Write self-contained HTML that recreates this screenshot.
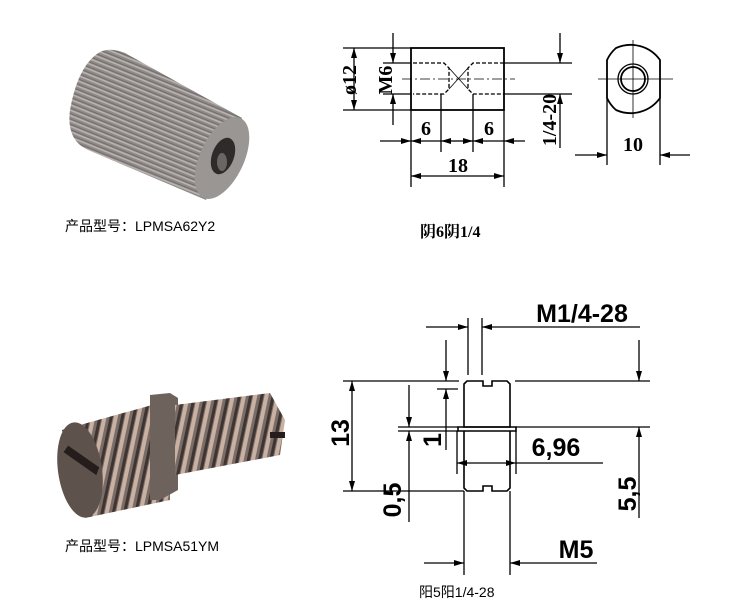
<!DOCTYPE html>
<html><head><meta charset="utf-8"><style>
body{margin:0;background:#fff;}
svg{display:block}
text{font-family:"Liberation Sans","Noto Sans CJK SC",sans-serif;fill:#000}
.sf text, text.sf{font-family:"Liberation Serif","Noto Serif CJK SC",serif;font-weight:bold}
</style></head><body>
<svg width="750" height="609" viewBox="0 0 750 609" xmlns="http://www.w3.org/2000/svg">
<defs>
<pattern id="kn" width="10" height="5" patternUnits="userSpaceOnUse" patternTransform="rotate(22)">
<rect width="10" height="5" fill="#8e8986"/><rect width="10" height="1.6" fill="#b8b3b0"/><rect y="3.5" width="10" height="0.8" fill="#6c6764"/>
</pattern>
<pattern id="th" width="11" height="10" patternUnits="userSpaceOnUse" patternTransform="rotate(12)">
<rect width="11" height="10" fill="#7a6c66"/><rect width="4" height="10" fill="#c8b0a2"/><rect x="7" width="3" height="10" fill="#3e3431"/></pattern>
<marker id="a" viewBox="0 0 10 6" refX="10" refY="3" markerWidth="10" markerHeight="6" orient="auto-start-reverse" markerUnits="userSpaceOnUse"><path d="M0,0L10,3L0,6z" fill="#000"/></marker>
</defs>
<!-- top photo -->
<g>
<path d="M100,52 Q110,47 125,53 L242,118 L206,200 L88,150 Q66,140 70,110 Q78,65 100,52Z" fill="url(#kn)"/>
<ellipse cx="222" cy="158" rx="22" ry="44" fill="#9a9694" transform="rotate(25 222 158)"/>
<ellipse cx="223" cy="156" rx="11" ry="19" fill="#2e2b2a" transform="rotate(20 223 156)"/>
<ellipse cx="222" cy="162" rx="5" ry="9" fill="#6a6664"/>
</g>
<text x="65" y="231" font-size="14">产品型号：LPMSA62Y2</text>
<!-- bottom photo -->
<g>
<path d="M62,430 L170,400 L170,500 L85,518 Z" fill="url(#th)"/>
<path d="M150,395 L170,393 L178,398 L178,490 L160,500 L150,500 Z" fill="#6e625c"/>
<path d="M175,405 L270,393 L285,420 L280,455 L175,475 Z" fill="url(#th)"/>
<ellipse cx="80" cy="470" rx="22" ry="48" fill="#5e524d" transform="rotate(-8 80 470)"/>
<path d="M62,455 L100,455 L102,463 L62,463z" fill="#241d1b" transform="rotate(35 80 460)"/>
<rect x="270" y="432" width="15" height="6" fill="#241d1b"/>
</g>
<text x="65" y="551" font-size="14">产品型号：LPMSA51YM</text>

<!-- top drawing -->
<g stroke="#000" fill="none" stroke-width="1.3">
<rect x="411" y="48" width="93" height="62" stroke-width="1.8"/>
<path d="M413,63H444L449,68V89L444,94H413M504,63H473L468,68V89L473,94H504" stroke-dasharray="4 2"/>
<path d="M449,68L468,89M449,89L468,68" stroke-width="0.8"/>
<path d="M402,79H515" stroke-width="0.7" stroke-dasharray="10 3 2 3"/>
<path d="M504,63H572M504,94H572M343,48H411M343,110H411M383,63H411M383,94H411"/>
<line x1="560" y1="33" x2="560" y2="63" marker-end="url(#a)"/>
<line x1="560" y1="148" x2="560" y2="94" marker-end="url(#a)"/>
<line x1="354" y1="48" x2="354" y2="110" marker-start="url(#a)" marker-end="url(#a)"/>
<line x1="393" y1="33" x2="393" y2="63" marker-end="url(#a)"/>
<line x1="393" y1="125" x2="393" y2="94" marker-end="url(#a)"/>
<path d="M411,110V187M504,110V187M441,94V152M473,94V152"/>
<line x1="380" y1="141" x2="411" y2="141" marker-end="url(#a)"/>
<line x1="441" y1="141" x2="411" y2="141" marker-end="url(#a)"/>
<line x1="441" y1="141" x2="457" y2="141" marker-start="url(#a)"/>
<line x1="457" y1="141" x2="473" y2="141" marker-end="url(#a)"/>
<line x1="525" y1="141" x2="504" y2="141" marker-end="url(#a)"/>
<line x1="473" y1="141" x2="504" y2="141" marker-start="url(#a)"/>
<line x1="411" y1="176" x2="504" y2="176" marker-start="url(#a)" marker-end="url(#a)"/>
<path d="M616,48 A36,36 0 0 1 660,60 V98 A36,36 0 0 1 616,110 A36,36 0 0 1 607,98 V60 A36,36 0 0 1 616,48 Z" stroke-width="1.8"/>
<circle cx="633" cy="79" r="15"/><circle cx="633" cy="79" r="12" stroke-width="1.8"/>
<path d="M598,79H673M633,40V118" stroke-width="0.8"/>
<path d="M607,98V165M660,98V165"/>
<line x1="575" y1="155" x2="607" y2="155" marker-end="url(#a)"/>
<line x1="690" y1="155" x2="660" y2="155" marker-end="url(#a)"/>
</g>
<g class="sf" font-size="20">
<text x="350" y="80" text-anchor="middle" transform="rotate(-90 350 80)" dy="6">ø12</text>
<text x="386" y="80" text-anchor="middle" transform="rotate(-90 386 80)" dy="6">M6</text>
<text x="426" y="135" text-anchor="middle">6</text>
<text x="489" y="135" text-anchor="middle">6</text>
<text x="458" y="172" text-anchor="middle">18</text>
<text x="550" y="120" text-anchor="middle" transform="rotate(-90 550 120)" dy="6">1/4-20</text>
<text x="633" y="151" text-anchor="middle">10</text>
</g>
<text x="420" y="237" font-size="16" class="sf">阴6阴1/4</text>

<!-- bottom drawing -->
<g stroke="#000" fill="none" stroke-width="1.3">
<path d="M467,381H483V386H492V381H507L510,384V427H464V384Z" stroke-width="1.6"/>
<path d="M458,427H516V431H458Z" stroke-width="1.6"/>
<path d="M464,431V488L467,491H483V486H492V491H507L510,488V431" stroke-width="1.6"/>
<line x1="426" y1="327" x2="468" y2="327" marker-end="url(#a)"/>
<line x1="640" y1="327" x2="482" y2="327" marker-end="url(#a)"/>
<path d="M468,318V375M482,318V375"/>
<path d="M515,381H650M516,427H650M343,381H459M343,491H464M437,389H458M398,427H458M398,431H458"/>
<line x1="639" y1="340" x2="639" y2="381" marker-end="url(#a)"/>
<line x1="639" y1="518" x2="639" y2="427" marker-end="url(#a)"/>
<line x1="352" y1="381" x2="352" y2="491" marker-start="url(#a)" marker-end="url(#a)"/>
<line x1="446" y1="340" x2="446" y2="381" marker-end="url(#a)"/>
<line x1="446" y1="450" x2="446" y2="389" marker-end="url(#a)"/>
<line x1="409" y1="385" x2="409" y2="427" marker-end="url(#a)"/>
<line x1="409" y1="522" x2="409" y2="431" marker-end="url(#a)"/>
<path d="M457,431V474M516,431V474"/>
<line x1="457" y1="463" x2="487" y2="463" marker-start="url(#a)"/>
<line x1="487" y1="463" x2="516" y2="463" marker-end="url(#a)"/>
<line x1="516" y1="463" x2="603" y2="463"/>
<path d="M464,491V575M510,491V575"/>
<line x1="424" y1="563" x2="464" y2="563" marker-end="url(#a)"/>
<line x1="597" y1="563" x2="510" y2="563" marker-end="url(#a)"/>
</g>
<g font-size="25" font-weight="bold">
<text x="582" y="322" text-anchor="middle">M1/4-28</text>
<text x="340" y="433" text-anchor="middle" transform="rotate(-90 340 433)" dy="9">13</text>
<text x="432" y="440" text-anchor="middle" transform="rotate(-90 432 440)" dy="9">1</text>
<text x="392" y="500" text-anchor="middle" transform="rotate(-90 392 500)" dy="9">0,5</text>
<text x="556" y="456" text-anchor="middle">6,96</text>
<text x="627" y="494" text-anchor="middle" transform="rotate(-90 627 494)" dy="9">5,5</text>
<text x="576" y="558" text-anchor="middle">M5</text>
</g>
<text x="419" y="597" font-size="14">阳5阳1/4-28</text>
</svg>
</body></html>
